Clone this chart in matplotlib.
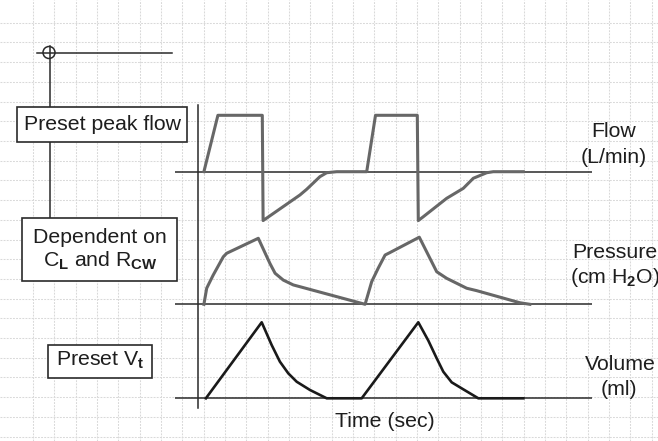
import numpy as np
import matplotlib
matplotlib.use("Agg")
import matplotlib.pyplot as plt
from matplotlib.patches import Rectangle, Circle

plt.rcParams['font.family'] = ['Liberation Sans', 'DejaVu Sans']
plt.rcParams['mathtext.fontset'] = 'custom'
plt.rcParams['mathtext.rm'] = 'Liberation Sans'
plt.rcParams['mathtext.bf'] = 'Liberation Sans:bold'
plt.rcParams['mathtext.it'] = 'Liberation Sans:italic'

# ---------------- data (time in s) ----------------
flow_t = [0.14, 0.49, 1.60, 1.62, 2.54, 2.71, 3.04, 3.21, 3.46, 4.21,
          4.43, 5.475, 5.50, 5.625, 6.21, 6.625, 6.875, 7.21, 7.375, 8.125]
flow_v = [0, 60, 60, -52, -24.8, -18.7, -5.3, -1.1, 0, 0,
          60, 60, -52, -47.9, -28.3, -17.7, -7.0, -1.1, 0, 0]

pres_t = [0.14, 0.21, 0.25, 0.37, 0.625, 0.71, 1.50, 1.79, 1.92, 2.125, 2.375, 2.54, 4.17,
          4.335, 4.50, 4.67, 4.79, 5.525, 5.96, 6.21, 6.71, 6.96, 8.04, 8.29]
pres_v = [0, 7.3, 8.8, 13.2, 21.6, 23.2, 30, 18.6, 14.1, 11.0, 8.8, 8.0, 0,
          10.3, 16.5, 22.4, 23.5, 30.5, 14.8, 11.8, 7.3, 6.2, 0.7, 0]

vol_t = [0.19, 1.585, 1.835, 2.04, 2.25, 2.46, 2.79, 3.21, 4.085,
         5.50, 5.75, 5.96, 6.125, 6.335, 6.625, 7.0, 8.125]
vol_v = [0, 500, 350, 241, 164, 109, 55, 0, 0,
         500, 380, 263, 175, 105, 59, 0, 0]

left_labels = ["Preset peak flow", "Dependent on",
               r"C$_\mathbf{L}$ and R$_\mathbf{CW}$", r"Preset V$_\mathbf{t}$"]
right_labels = ["Flow", "(L/min)", "Pressure", r"(cm H$_\mathbf{2}$O)", "Volume", "(ml)"]
x_label = "Time (sec)"

# ---------------- layout ----------------
W, H = 658, 441
fig = plt.figure(figsize=(W / 100, H / 100), dpi=100)
fig.patch.set_facecolor('white')

bg = fig.add_axes([0, 0, 1, 1])
bg.set_xlim(0, W)
bg.set_ylim(H, 0)
bg.set_facecolor('white')
for s in bg.spines.values():
    s.set_visible(False)
bg.set_xticks(np.arange(33.0, W, 21.33))
bg.set_yticks(np.arange(22.7, H, 19.71))
bg.tick_params(length=0, labelbottom=False, labelleft=False)
bg.grid(True, color='#d9d9d9', linestyle=(0, (1.8, 1.2)), linewidth=0.75)

TXT = '#1e1e1e'
FS = 15.3
LINE = '#2a2a2a'

# left bracket structure
bg.plot([50, 50], [46, 218.3], color=LINE, lw=1.1, zorder=3)
bg.plot([36.7, 171.7], [52.7, 52.7], color=LINE, lw=1.1, zorder=3)
bg.add_patch(Circle((49, 52.5), 6.0, fill=False, ec=LINE, lw=1.1, zorder=3))

# boxes
for (x0, y0, x1, y1) in [(16.7, 106.7, 186.7, 141.7),
                         (21.7, 218.3, 176.7, 281.0),
                         (47.7, 345.0, 151.7, 378.3)]:
    bg.add_patch(Rectangle((x0, y0), x1 - x0, y1 - y0, fc='white', ec=LINE,
                           lw=1.2, zorder=4))

bg.text(102, 130, left_labels[0], ha='center', va='baseline', fontsize=FS, color=TXT, zorder=5)
bg.text(100, 242.7, left_labels[1], ha='center', va='baseline', fontsize=FS, color=TXT, zorder=5)
bg.text(100, 266.7, left_labels[2], ha='center', va='baseline', fontsize=FS, color=TXT, zorder=5)
bg.text(100, 365.7, left_labels[3], ha='center', va='baseline', fontsize=FS, color=TXT, zorder=5)

# right labels
for lab, (x, y) in zip(right_labels, [(614, 136.7), (614, 163.3), (615, 258.3),
                                      (615, 283.3), (620, 370), (619, 395)]):
    bg.text(x, y, lab, ha='center', va='baseline', fontsize=FS, color=TXT, zorder=5)
bg.text(385, 426.7, x_label, ha='center', va='baseline', fontsize=FS, color=TXT, zorder=5)

# vertical time axis
T0_PX = 198.3
bg.plot([T0_PX, T0_PX], [105, 408], color=LINE, lw=1.1, zorder=3)

# ---------------- waveform axes ----------------
PX_PER_SEC = 40.0
X0_PX, X1_PX = 175.0, 591.7
xlim = ((X0_PX - T0_PX) / PX_PER_SEC, (X1_PX - T0_PX) / PX_PER_SEC)


def wave_axes(y_top, y_bot, base_px, px_per_unit):
    ax = fig.add_axes([X0_PX / W, 1 - y_bot / H, (X1_PX - X0_PX) / W, (y_bot - y_top) / H])
    ax.set_xlim(*xlim)
    ax.set_ylim(-(y_bot - base_px) / px_per_unit, (base_px - y_top) / px_per_unit)
    ax.axis('off')
    ax.patch.set_alpha(0)
    ax.axhline(0, color=LINE, lw=1.1, zorder=1)
    return ax


ax_f = wave_axes(100, 232, 171.7, 56.4 / 60)
ax_p = wave_axes(232, 312, 304.3, 66.0 / 30)
ax_v = wave_axes(312, 412, 398.3, 76.0 / 500)

ax_f.plot(flow_t, flow_v, color='#676767', lw=2.2, solid_joinstyle='round', zorder=2, clip_on=False)
ax_p.plot(pres_t, pres_v, color='#676767', lw=2.2, solid_joinstyle='round', zorder=2, clip_on=False)
ax_v.plot(vol_t, vol_v, color='#1a1a1a', lw=1.9, solid_joinstyle='round', zorder=2, clip_on=False)

fig.savefig('out.png', dpi=100, facecolor='white')
